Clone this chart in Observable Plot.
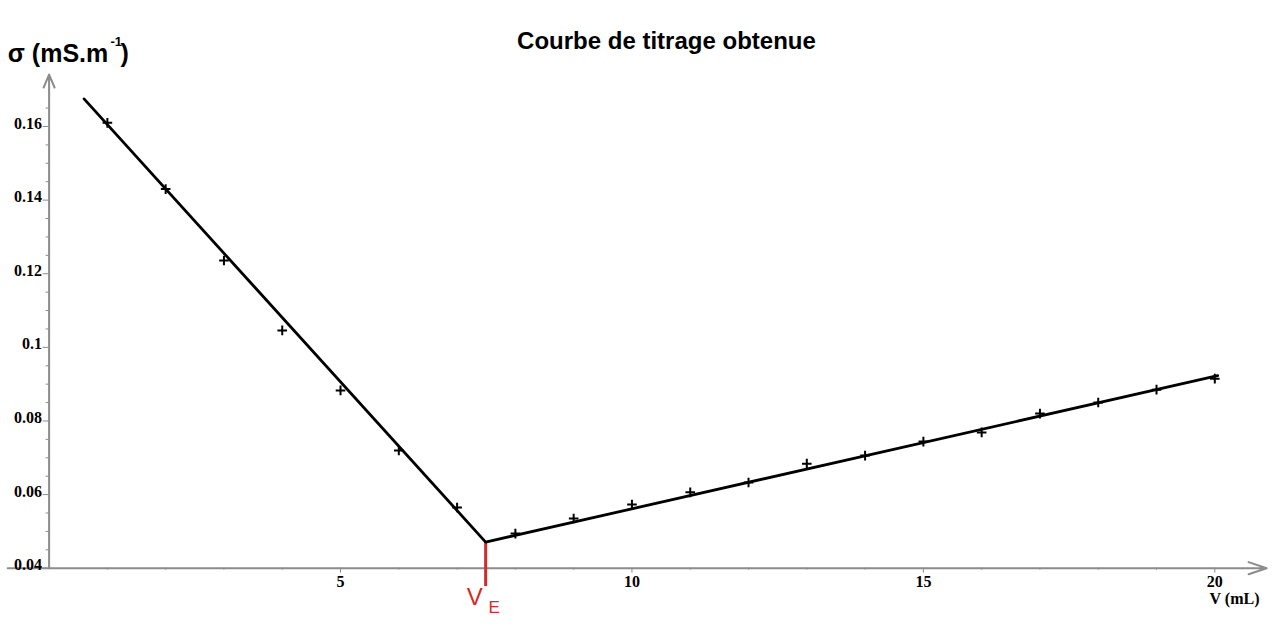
<!DOCTYPE html>
<html>
<head>
<meta charset="utf-8">
<script src="https://cdn.jsdelivr.net/npm/d3@7"></script>
<script src="https://cdn.jsdelivr.net/npm/@observablehq/plot@0.6"></script>
<style>
  html, body { margin: 0; padding: 0; background: #fff; }
</style>
</head>
<body>
<div id="chart"></div>
<script>
// ---- data ----
const volumes = [1, 2, 3, 4, 5, 6, 7, 8, 9, 10, 11, 12, 13, 14, 15, 16, 17, 18, 19, 20];
const conductivity = [0.161, 0.143, 0.1236, 0.1046, 0.0883, 0.072, 0.0565, 0.0494, 0.0535, 0.0573,
                      0.0606, 0.0633, 0.0684, 0.0706, 0.0744, 0.0769, 0.082, 0.085, 0.0885, 0.0915];
// the two fitted straight lines meeting at the equivalence point
const fitVolumes = [0.6, 7.49, 20.05];
const fitConductivity = [0.1675, 0.0471, 0.0923];
const equivalenceVolume = 7.49;
const equivalenceConductivity = 0.0471;
const equivalenceTail = 0.035;

const xMajorTicks = [5, 10, 15, 20];
const xTickLabels = ["5", "10", "15", "20"];
const xMinorTicks = [1, 2, 3, 4, 6, 7, 8, 9, 11, 12, 13, 14, 16, 17, 18, 19];
const yMajorTicks = [0.04, 0.06, 0.08, 0.1, 0.12, 0.14, 0.16];
const yTickLabels = ["0.04", "0.06", "0.08", "0.1", "0.12", "0.14", "0.16"];
const yMinorTicks = [0.045, 0.05, 0.055, 0.065, 0.07, 0.075, 0.085, 0.09, 0.095, 0.105, 0.11, 0.115,
                     0.125, 0.13, 0.135, 0.145, 0.15, 0.155, 0.165];
const xAxisExtent = [-0.71, 20.89];
const yAxisTop = 0.1741;

const titleText = "Courbe de titrage obtenue";
const yLabelMain = "σ (mS.m";
const yLabelSup = "-1";
const yLabelClose = ")";
const xLabel = "V (mL)";

// ---- build table ----
const points = volumes.map((v, i) => ({v, s: conductivity[i]}));
const fit = fitVolumes.map((v, i) => ({v, s: fitConductivity[i]}));

const axisGray = "#8c8c8c";
const red = "#d42a2a";
const serif = "'Liberation Serif', 'DejaVu Serif', serif";
const sans = "'Liberation Sans', Arial, sans-serif";
const noText = () => "";

const chart = Plot.plot({
  width: 1277,
  height: 632,
  marginLeft: 48.6,
  marginRight: 62.7,
  marginTop: 126,
  marginBottom: 64.3,
  style: {background: "white", overflow: "visible", fontFamily: sans, color: "black"},
  x: {domain: [0, 20], axis: null},
  y: {domain: [0.04, 0.16], axis: null},
  marks: [
    // axes lines with open arrowheads
    Plot.arrow([0], {x1: xAxisExtent[0], x2: xAxisExtent[1], y1: 0.04, y2: 0.04,
      stroke: axisGray, strokeWidth: 2, headLength: 14.3, headAngle: 37}),
    Plot.arrow([0], {x1: 0, x2: 0, y1: 0.04, y2: yAxisTop,
      stroke: axisGray, strokeWidth: 2, headLength: 10.5, headAngle: 46}),
    // y ticks
    Plot.axisY({ticks: yMinorTicks, tickSize: 3, tickFormat: noText, stroke: axisGray, label: null}),
    Plot.axisY({ticks: yMajorTicks, tickSize: 6, tickFormat: noText, stroke: axisGray, label: null}),
    Plot.axisY({ticks: yMajorTicks, tickSize: 0, tickPadding: 7, dy: -3, label: null,
      tickFormat: d => yTickLabels[yMajorTicks.indexOf(d)],
      fontSize: 16, fontWeight: "bold", fontFamily: serif, fill: "black"}),
    // x ticks
    Plot.axisX({ticks: xMinorTicks, tickSize: 2, tickFormat: noText, stroke: axisGray, label: null}),
    Plot.axisX({ticks: xMajorTicks, tickSize: 5, tickFormat: noText, stroke: axisGray, label: null}),
    Plot.axisX({ticks: xMajorTicks, tickSize: 0, tickPadding: 7, label: null,
      tickFormat: d => xTickLabels[xMajorTicks.indexOf(d)],
      fontSize: 16, fontWeight: "bold", fontFamily: serif, fill: "black"}),
    // equivalence marker
    Plot.ruleX([equivalenceVolume], {x: d => d, y1: equivalenceConductivity, y2: equivalenceTail,
      stroke: red, strokeWidth: 3}),
    // fitted lines
    Plot.line(fit, {x: "v", y: "s", stroke: "black", strokeWidth: 2.8}),
    // measured points
    Plot.dot(points, {x: "v", y: "s", symbol: "plus", r: 3.2, stroke: "black", strokeWidth: 2}),
    // V_E label
    Plot.text([equivalenceVolume], {x: d => d, frameAnchor: "bottom", text: () => "V",
      dx: -11, dy: 36.6, fontSize: 24, fill: red, fontFamily: sans}),
    Plot.text([equivalenceVolume], {x: d => d, frameAnchor: "bottom", text: () => "E",
      dx: 8.5, dy: 44.9, fontSize: 17, fill: red, fontFamily: sans}),
    // title
    Plot.text([titleText], {text: d => d, frameAnchor: "top", dx: 34.5, dy: -94.4,
      fontSize: 24, fontWeight: "bold", fontFamily: sans, fill: "black"}),
    // y label with superscript
    Plot.text([yLabelMain], {text: d => d, frameAnchor: "top-left", textAnchor: "start",
      dx: -41.3, dy: -82.5, fontSize: 25, fontWeight: "bold", fontFamily: sans, fill: "black"}),
    Plot.text([yLabelSup], {text: d => d, frameAnchor: "top-left", textAnchor: "start",
      dx: 61.4, dy: -89.7, fontSize: 13, fontWeight: "bold", fontFamily: sans, fill: "black"}),
    Plot.text([yLabelClose], {text: d => d, frameAnchor: "top-left", textAnchor: "start",
      dx: 71.4, dy: -82.5, fontSize: 25, fontWeight: "bold", fontFamily: sans, fill: "black"}),
    // x label
    Plot.text([xLabel], {text: d => d, frameAnchor: "bottom-right", textAnchor: "middle",
      dx: 19.7, dy: 35.8, fontSize: 16, fontWeight: "bold", fontFamily: serif, fill: "black"})
  ]
});
document.getElementById("chart").appendChild(chart);
</script>
</body>
</html>
